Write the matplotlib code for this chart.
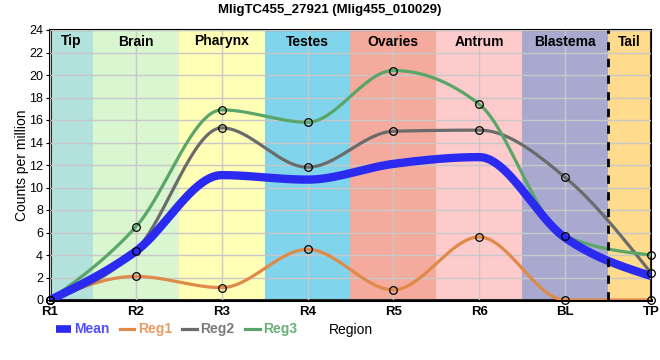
import numpy as np
import matplotlib
matplotlib.use("Agg")
import matplotlib.pyplot as plt

plt.rcParams['font.family'] = ['Liberation Sans', 'DejaVu Sans']

# data
regions = ["R1", "R2", "R3", "R4", "R5", "R6", "BL", "TP"]
reg1 = [0, 2.1, 1.1, 4.5, 0.9, 5.6, 0, 0]
reg2 = [0, 4.4, 15.3, 11.8, 15.0, 15.1, 10.9, 2.4]
reg3 = [0, 6.5, 16.9, 15.8, 20.4, 17.4, 5.7, 4.0]

zones = ["Tip", "Brain", "Pharynx", "Testes", "Ovaries", "Antrum", "Blastema", "Tail"]
zone_edges = [0, 0.5, 1.5, 2.5, 3.5, 4.5, 5.5, 6.5, 7]
zone_colors = ["#b3e2dd", "#d9f6d1", "#ffffb5", "#80d4eb",
               "#f4aa9c", "#fdcbcb", "#a9a9d0", "#ffdb8d"]


def monotone(y, n=60):
    # same idea as d3 curveMonotoneX, unit spacing
    y = np.asarray(y, dtype=float)
    s = np.diff(y)
    t = np.zeros(len(y))
    sg = lambda v: -1.0 if v < 0 else 1.0
    for i in range(1, len(y) - 1):
        p = (s[i - 1] + s[i]) / 2
        t[i] = (sg(s[i - 1]) + sg(s[i])) * min(abs(s[i - 1]), abs(s[i]), 0.5 * abs(p))
    t[0] = (3 * s[0] - t[1]) / 2
    t[-1] = (3 * s[-1] - t[-2]) / 2
    xs, ys = [], []
    u = np.linspace(0, 1, n)
    h00 = 2 * u**3 - 3 * u**2 + 1
    h10 = u**3 - 2 * u**2 + u
    h01 = -2 * u**3 + 3 * u**2
    h11 = u**3 - u**2
    for i in range(len(y) - 1):
        xs.append(i + u)
        ys.append(h00 * y[i] + h10 * t[i] + h01 * y[i + 1] + h11 * t[i + 1])
    return np.concatenate(xs), np.concatenate(ys)


mean = np.mean([reg1, reg2, reg3], axis=0)
x = np.arange(len(regions))

fig = plt.figure(figsize=(6.6, 3.6), dpi=100)
ax = fig.add_axes([50/660, 60/360, 601/660, 270/360])

for i, z in enumerate(zones):
    ax.axvspan(zone_edges[i], zone_edges[i+1], color=zone_colors[i], lw=0, zorder=0)
    ax.text((zone_edges[i] + zone_edges[i+1]) / 2, 23.6, z, ha="center", va="top",
            fontsize=10, fontweight="bold", zorder=6)

ax.grid(True, color="#c8c8c8", lw=1, zorder=1)
ax.set_axisbelow(False)
for gl in ax.get_xgridlines() + ax.get_ygridlines():
    gl.set_zorder(1)

ax.axvline(6.5, color="black", lw=2, ls=(0, (3, 3)), zorder=5)

series = [("Reg1", reg1, "#e08a4a"), ("Reg2", reg2, "#6b6b6b"), ("Reg3", reg3, "#5aa568")]
for name, vals, col in series:
    xs, ys = monotone(vals)
    ax.plot(xs, ys, color=col, lw=2.3, label=name, zorder=3)
    ax.plot(x, vals, "o", ms=5.5, mfc="none", mec="black", mew=0.9, zorder=4, clip_on=False)

xs, ys = monotone(mean)
ax.plot(xs, ys, color="#2a2af0", lw=6, label="Mean", zorder=3.5, solid_capstyle="butt")

ax.set_xlim(0, 7)
ax.set_ylim(0, 24)
ax.set_xticks(x)
ax.set_xticklabels(regions, fontsize=9.5, fontweight="bold")
ax.set_yticks(np.arange(0, 25, 2))
ax.tick_params(axis="y", labelsize=9, length=3, pad=2)
ax.tick_params(axis="x", length=0, pad=4)
ax.set_ylabel("Counts per million", fontsize=10, labelpad=0)
ax.set_xlabel("Region", fontsize=10)
ax.xaxis.set_label_coords(0.5, -0.085)

for side in ["left", "bottom"]:
    ax.spines[side].set_linewidth(2.2)
for side in ["top", "right"]:
    ax.spines[side].set_linewidth(1.5)

h, l = ax.get_legend_handles_labels()
order = [3, 0, 1, 2]
leg = ax.legend([h[i] for i in order], [l[i] for i in order], ncol=4, frameon=False,
                loc="upper left", bbox_to_anchor=(0.01, -0.083), fontsize=10,
                handlelength=1.05, handletextpad=0.25, columnspacing=0.75,
                borderaxespad=0, borderpad=0)
for txt, col in zip(leg.get_texts(), ["#5050ff", "#eb9a62", "#7a7a7a", "#6aae78"]):
    txt.set_color(col)
    txt.set_fontweight("bold")
leg.legend_handles[0].set_linewidth(5.5)

fig.text(0.5, 0.99, "MligTC455_27921 (Mlig455_010029)", ha="center", va="top",
         fontsize=9.5, fontweight="bold")

fig.savefig("out.png", dpi=100)
